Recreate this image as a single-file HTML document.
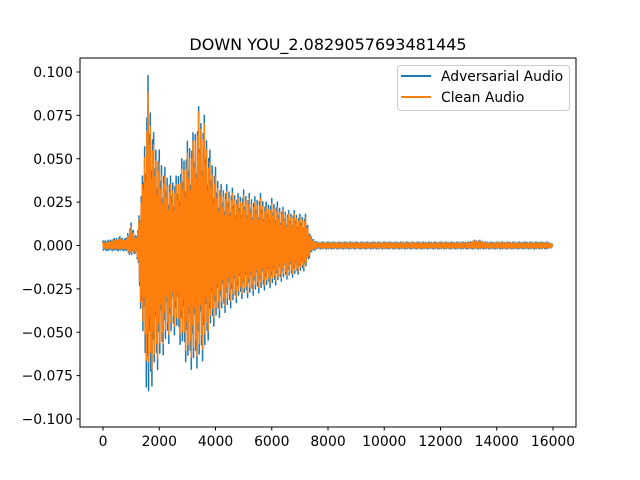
<!DOCTYPE html>
<html><head><meta charset="utf-8"><style>
body{margin:0;background:#fff}
svg{display:block;font-family:"DejaVu Sans","Liberation Sans",sans-serif}
</style></head><body>
<svg id="chart" width="640" height="480" xmlns="http://www.w3.org/2000/svg">
<rect width="640" height="480" fill="#fff"/>
<text x="328" y="50" text-anchor="middle" font-size="16">DOWN YOU_2.0829057693481445</text>
<g id="plot"></g>
<rect x="80" y="58" width="496" height="369" fill="none" stroke="#000" stroke-width="1"/>
<g id="ticks"></g>
<g>
<rect x="397.5" y="65.5" width="172" height="45" rx="3" fill="#fff" fill-opacity="0.8" stroke="#ccc"/>
<line x1="401" y1="76" x2="431" y2="76" stroke="#1f77b4" stroke-width="2"/>
<text x="441" y="81" font-size="13.9">Adversarial Audio</text>
<line x1="401" y1="97" x2="431" y2="97" stroke="#ff7f0e" stroke-width="2"/>
<text x="441" y="102" font-size="13.9">Clean Audio</text>
</g>
</svg>
<script>
const binStep = 200;
const advMax = [0.003,0.003,0.004,0.005,0.004,0.013,0.005,0.04,0.098,0.065,0.055,0.045,0.04,0.04,0.05,0.06,0.065,0.08,0.075,0.055,0.045,0.035,0.035,0.033,0.03,0.032,0.03,0.028,0.03,0.025,0.027,0.025,0.022,0.02,0.02,0.018,0.018,0.005,0.002,0.002,0.002,0.002,0.002,0.002,0.002,0.002,0.002,0.002,0.002,0.002,0.002,0.002,0.002,0.002,0.002,0.002,0.002,0.002,0.002,0.002,0.002,0.002,0.002,0.002,0.002,0.002,0.003,0.003,0.002,0.002,0.002,0.002,0.002,0.002,0.002,0.002,0.002,0.002,0.002,0.002,0.001];
const advMin = [-0.003,-0.003,-0.003,-0.003,-0.003,-0.006,-0.004,-0.05,-0.095,-0.075,-0.07,-0.06,-0.055,-0.05,-0.06,-0.07,-0.072,-0.07,-0.065,-0.05,-0.045,-0.04,-0.038,-0.035,-0.032,-0.03,-0.03,-0.028,-0.027,-0.025,-0.024,-0.022,-0.02,-0.019,-0.018,-0.016,-0.014,-0.004,-0.002,-0.002,-0.002,-0.002,-0.002,-0.002,-0.002,-0.002,-0.002,-0.002,-0.002,-0.002,-0.002,-0.002,-0.002,-0.002,-0.002,-0.002,-0.002,-0.002,-0.002,-0.002,-0.002,-0.002,-0.002,-0.002,-0.002,-0.002,-0.002,-0.002,-0.002,-0.002,-0.002,-0.002,-0.002,-0.002,-0.002,-0.002,-0.002,-0.002,-0.002,-0.002,-0.001];
const cleanMax = [0.002,0.002,0.003,0.004,0.003,0.011,0.004,0.035,0.088,0.058,0.048,0.04,0.035,0.035,0.044,0.053,0.06,0.077,0.07,0.048,0.04,0.031,0.031,0.03,0.027,0.029,0.027,0.025,0.027,0.022,0.024,0.022,0.02,0.018,0.018,0.016,0.016,0.004,0.0015,0.0015,0.0015,0.0015,0.0015,0.0015,0.0015,0.0015,0.0015,0.0015,0.0015,0.0015,0.0015,0.0015,0.0015,0.0015,0.0015,0.0015,0.0015,0.0015,0.0015,0.0015,0.0015,0.0015,0.0015,0.0015,0.0015,0.0015,0.0025,0.0025,0.0015,0.0015,0.0015,0.0015,0.0015,0.0015,0.0015,0.0015,0.0015,0.0015,0.0015,0.0015,0.001];
const cleanMin = [-0.002,-0.002,-0.002,-0.002,-0.002,-0.005,-0.003,-0.045,-0.075,-0.07,-0.063,-0.054,-0.05,-0.045,-0.054,-0.063,-0.065,-0.063,-0.058,-0.045,-0.04,-0.036,-0.034,-0.031,-0.029,-0.027,-0.027,-0.025,-0.024,-0.022,-0.021,-0.02,-0.018,-0.017,-0.016,-0.014,-0.012,-0.003,-0.0015,-0.0015,-0.0015,-0.0015,-0.0015,-0.0015,-0.0015,-0.0015,-0.0015,-0.0015,-0.0015,-0.0015,-0.0015,-0.0015,-0.0015,-0.0015,-0.0015,-0.0015,-0.0015,-0.0015,-0.0015,-0.0015,-0.0015,-0.0015,-0.0015,-0.0015,-0.0015,-0.0015,-0.0015,-0.0015,-0.0015,-0.0015,-0.0015,-0.0015,-0.0015,-0.0015,-0.0015,-0.0015,-0.0015,-0.0015,-0.0015,-0.0015,-0.001];
const xTicks = [0,2000,4000,6000,8000,10000,12000,14000,16000];
const yTicks = [-0.1,-0.075,-0.05,-0.025,0,0.025,0.05,0.075,0.1];
const yTickLabels = ["\u22120.100","\u22120.075","\u22120.050","\u22120.025","0.000","0.025","0.050","0.075","0.100"];

const NS = "http://www.w3.org/2000/svg";
function xs(v){ return 103 + v/16000*450; }
function ys(v){ return 245.5 - v/0.1*173.5; }
const spikeShape = [1, 0.7, 0.9, 0.55, 0.85];

function wave(maxA, minA, color, name){
  const pts = [];
  const osc = spikeShape.length;
  for (let i = 0; i < maxA.length - 1; i++) {
    for (let k = 0; k < osc; k++) {
      const f1 = k/osc, f2 = (k+0.5)/osc;
      const s1 = (i+f1)*binStep, s2 = (i+f2)*binStep;
      const hi = (maxA[i] + (maxA[i+1]-maxA[i])*f1) * spikeShape[k];
      const lo = (minA[i] + (minA[i+1]-minA[i])*f2) * spikeShape[(k+2)%osc];
      pts.push(xs(s1).toFixed(2)+","+ys(hi).toFixed(2));
      pts.push(xs(s2).toFixed(2)+","+ys(lo).toFixed(2));
    }
  }
  const p = document.createElementNS(NS, "polyline");
  p.setAttribute("points", pts.join(" "));
  p.setAttribute("fill", "none");
  p.setAttribute("stroke", color);
  p.setAttribute("stroke-width", "1.5");
  p.setAttribute("stroke-linejoin", "round");
  
  
  document.getElementById("plot").appendChild(p);
}
wave(advMax, advMin, "#1f77b4", "adversarial-audio-line");
wave(cleanMax, cleanMin, "#ff7f0e", "clean-audio-line");

const tg = document.getElementById("ticks");
xTicks.forEach(t => {
  const l = document.createElementNS(NS, "line");
  l.setAttribute("x1", xs(t)); l.setAttribute("x2", xs(t));
  l.setAttribute("y1", 427); l.setAttribute("y2", 430.5);
  l.setAttribute("stroke", "#000");
  
  
  tg.appendChild(l);
  const tx = document.createElementNS(NS, "text");
  tx.setAttribute("x", xs(t)); tx.setAttribute("y", 446);
  tx.setAttribute("text-anchor", "middle"); tx.setAttribute("font-size", "13.9");
  tx.textContent = String(t);
  
  
  tg.appendChild(tx);
});
yTicks.forEach((t, i) => {
  const l = document.createElementNS(NS, "line");
  l.setAttribute("x1", 76.5); l.setAttribute("x2", 80);
  l.setAttribute("y1", ys(t)); l.setAttribute("y2", ys(t));
  l.setAttribute("stroke", "#000");
  
  
  tg.appendChild(l);
  const tx = document.createElementNS(NS, "text");
  tx.setAttribute("x", 73); tx.setAttribute("y", ys(t) + 5);
  tx.setAttribute("text-anchor", "end"); tx.setAttribute("font-size", "13.9");
  tx.textContent = yTickLabels[i];
  
  
  tg.appendChild(tx);
});
</script>
</body></html>
